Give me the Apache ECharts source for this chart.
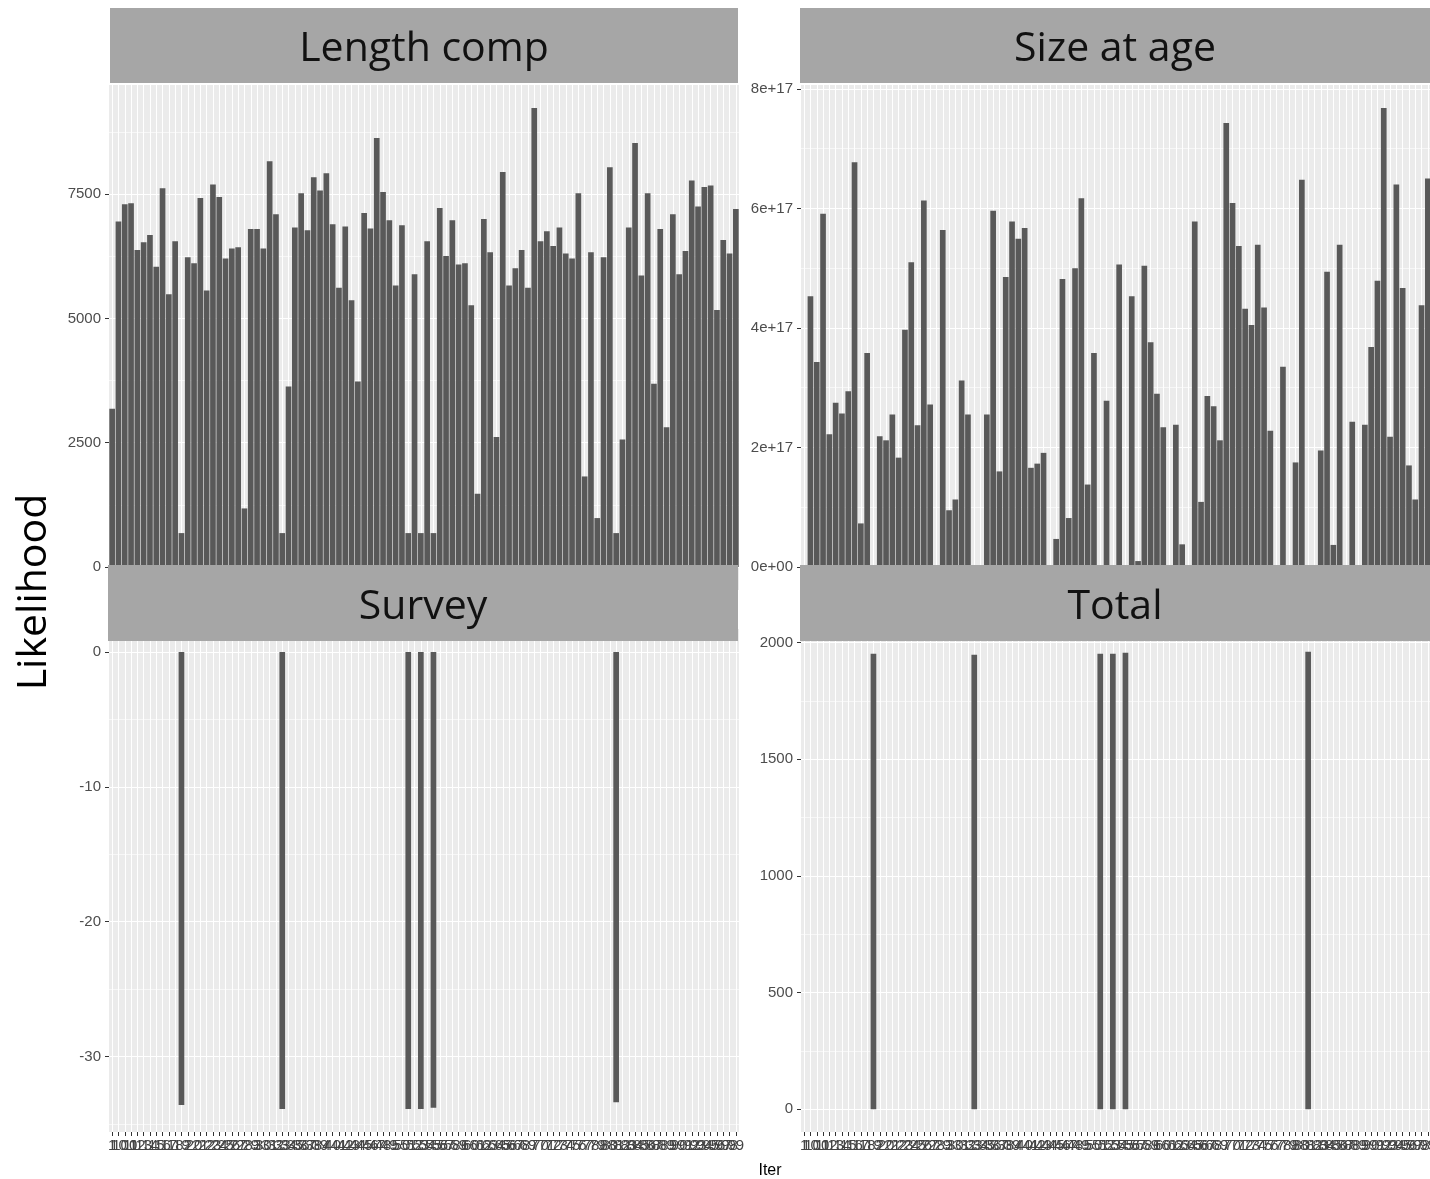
<!DOCTYPE html>
<html><head><meta charset="utf-8">
<script src="https://cdn.jsdelivr.net/npm/echarts@6/dist/echarts.min.js"></script>
<style>html,body{margin:0;padding:0;background:#fff}#c{width:1430px;height:1179px}</style>
</head><body><div id="c"></div>
<script>
// Iterations, sorted as text (as ggplot did)
const iterLabels = ["1","10","100","11","12","13","14","15","16","17","18","19",
 "2","20","21","22","23","24","25","26","27","28","29",
 "3","30","31","32","33","34","35","36","37","38","39",
 "4","40","41","42","43","44","45","46","47","48","49",
 "5","50","51","52","53","54","55","56","57","58","59",
 "6","60","61","62","63","64","65","66","67","68","69",
 "7","70","71","72","73","74","75","76","77","78","79",
 "8","80","81","82","83","84","85","86","87","88","89",
 "9","90","91","92","93","94","95","96","97","98","99"];

const lengthComp = [
 3183,6948,7296,7316,6378,6532,6680,6037,7618,5487,
 6553,683,6231,6110,7424,5561,7692,7444,6204,6405,
 6432,1179,6800,6800,6405,8161,7095,683,3631,6827,
 7517,6774,7839,7571,7919,6894,5615,6847,5367,3732,
 7122,6807,8630,7544,6975,5662,6874,683,5889,683,
 6550,683,7223,6258,6975,6084,6110,5266,1474,7002,
 6332,2613,7946,5662,6010,6378,5615,9233,6553,6754,
 6459,6827,6305,6204,7517,1822,6332,985,6231,8040,
 683,2566,6827,8529,5862,7517,3685,6800,2814,7095,
 5889,6358,7772,7249,7645,7672,5172,6579,6305,7203];

// Size at age, in units of 1e17
const sizeAtAgeE17 = [
 0,4.53,3.43,5.91,2.22,2.75,2.57,2.94,6.77,0.73,
 3.58,0,2.19,2.12,2.55,1.83,3.97,5.10,2.37,6.13,
 2.72,0,5.64,0.95,1.13,3.12,2.55,0,0,2.55,
 5.96,1.60,4.85,5.78,5.49,5.67,1.66,1.73,1.91,0,
 0.47,4.82,0.82,5.00,6.17,1.38,3.58,0,2.78,0,
 5.06,0,4.53,0.10,5.04,3.76,2.90,2.34,0,2.38,
 0.38,0,5.78,1.09,2.86,2.69,2.12,7.43,6.09,5.37,
 4.32,4.05,5.39,4.34,2.28,0,3.35,0,1.75,6.48,
 0,0,1.95,4.94,0.37,5.39,0,2.43,0,2.38,
 3.68,4.79,7.68,2.18,6.40,4.67,1.70,1.13,4.38,6.50];

const survey = [
 0,0,0,0,0,0,0,0,0,0,
 0,-33.6,0,0,0,0,0,0,0,0,
 0,0,0,0,0,0,0,-33.9,0,0,
 0,0,0,0,0,0,0,0,0,0,
 0,0,0,0,0,0,0,-33.9,0,-33.9,
 0,-33.8,0,0,0,0,0,0,0,0,
 0,0,0,0,0,0,0,0,0,0,
 0,0,0,0,0,0,0,0,0,0,
 -33.4,0,0,0,0,0,0,0,0,0,
 0,0,0,0,0,0,0,0,0,0];

const total = [
 null,null,null,null,null,null,null,null,null,null,
 null,1952,null,null,null,null,null,null,null,null,
 null,null,null,null,null,null,null,1948,null,null,
 null,null,null,null,null,null,null,null,null,null,
 null,null,null,null,null,null,null,1952,null,1952,
 null,1956,null,null,null,null,null,null,null,null,
 null,null,null,null,null,null,null,null,null,null,
 null,null,null,null,null,null,null,null,null,null,
 1960,null,null,null,null,null,null,null,null,null,
 null,null,null,null,null,null,null,null,null,null];

const panelTitles = ["Length comp", "Size at age", "Survey", "Total"];
const lengthTicks = [0, 2500, 5000, 7500];
const lengthMinor = [1250, 3750, 6250, 8750];
const sizeTicks = [0, 2e17, 4e17, 6e17, 8e17];
const sizeMinor = [1e17, 3e17, 5e17, 7e17];
const surveyTicks = [-30, -20, -10, 0];
const surveyMinor = [-35, -25, -15, -5];
const totalTicks = [0, 500, 1000, 1500, 2000];
const totalMinor = [250, 750, 1250, 1750];

const AX_FONT = 'Liberation Sans, Arial, sans-serif';
const TITLE_FONT = '"Open Sans", "Noto Sans", sans-serif';

function sciFmt(v) {
  if (v === 0) return '0e+00';
  const s = v.toExponential(0);
  const m = s.match(/^(-?\d)e([+-])(\d+)$/);
  return m ? m[1] + 'e' + m[2] + (m[3].length < 2 ? '0' + m[3] : m[3]) : s;
}

const grids = [
  {left: 109, top: 85, width: 630, height: 505},
  {left: 801, top: 85, width: 630, height: 505},
  {left: 109, top: 629, width: 630, height: 503},
  {left: 801, top: 629, width: 630, height: 503}
].map(g => Object.assign({show: true, backgroundColor: '#ebebeb', borderWidth: 0,
                          containLabel: false, outerBoundsMode: 'none'}, g));

function xAx(gi, showLabels) {
  return {
    type: 'category', gridIndex: gi, data: iterLabels, boundaryGap: true, position: 'bottom',
    axisLine: {show: false, onZero: false},
    axisTick: {show: showLabels, alignWithLabel: true, interval: 0, length: 4, lineStyle: {color: '#333333'}},
    axisLabel: {show: showLabels, interval: 0, color: '#444444', fontSize: 15, margin: 6, fontFamily: AX_FONT},
    splitLine: {show: true, alignWithLabel: true, interval: 0, lineStyle: {color: '#ffffff', width: 1}}
  };
}
function yMain(gi, min, max, ticks, fmt) {
  return {
    type: 'value', gridIndex: gi, min: min, max: max, position: 'left',
    axisLine: {show: false},
    axisTick: {show: true, length: 4, customValues: ticks, lineStyle: {color: '#333333'}},
    axisLabel: {show: true, customValues: ticks, color: '#4d4d4d', fontSize: 15, margin: 8,
                fontFamily: AX_FONT, formatter: fmt || (v => String(v))},
    splitLine: {show: true, lineStyle: {color: '#ffffff', width: 1.2}}
  };
}
function yMinor(gi, min, max, ticks) {
  return {
    type: 'value', gridIndex: gi, min: min, max: max, position: 'left',
    axisLine: {show: false},
    axisTick: {show: false, customValues: ticks},
    axisLabel: {show: false},
    splitLine: {show: true, lineStyle: {color: '#ffffff', width: 0.6}}
  };
}

const barBase = {type: 'bar', barWidth: '90%', itemStyle: {color: '#595959'},
                 emphasis: {disabled: true}, silent: true, animation: false};

const stripRects = [
  {x: 110, y: 8, w: 628, h: 75, t: panelTitles[0]},
  {x: 800, y: 8, w: 630, h: 75, t: panelTitles[1]},
  {x: 108, y: 565, w: 630, h: 76, t: panelTitles[2]},
  {x: 800, y: 565, w: 630, h: 76, t: panelTitles[3]}
];
const graphics = [];
stripRects.forEach(s => {
  graphics.push({type: 'rect', z: 100, shape: {x: s.x, y: s.y, width: s.w, height: s.h},
                 style: {fill: '#a6a6a6'}, silent: true});
  graphics.push({type: 'text', z: 101, x: s.x + s.w / 2, y: s.y + s.h / 2 + 4, silent: true,
                 style: {text: s.t, fill: '#111111', font: '41px ' + TITLE_FONT,
                         textAlign: 'center', textVerticalAlign: 'middle'}});
});
graphics.push({type: 'text', z: 101, x: 34, y: 592, rotation: Math.PI / 2, silent: true,
               style: {text: 'Likelihood', fill: '#000000', font: '41px ' + TITLE_FONT,
                       textAlign: 'center', textVerticalAlign: 'middle'}});
graphics.push({type: 'text', z: 101, x: 770, y: 1171, silent: true,
               style: {text: 'Iter', fill: '#000000', font: '16px ' + AX_FONT,
                       textAlign: 'center', textVerticalAlign: 'middle'}});

const option = {
  animation: false,
  backgroundColor: '#ffffff',
  grid: grids,
  xAxis: [xAx(0, false), xAx(1, false), xAx(2, true), xAx(3, true)],
  yAxis: [
    yMain(0, -461.6, 9694.6, lengthTicks), yMinor(0, -461.6, 9694.6, lengthMinor),
    yMain(1, -0.384e17, 8.064e17, sizeTicks, sciFmt), yMinor(1, -0.384e17, 8.064e17, sizeMinor),
    yMain(2, -35.6, 1.7, surveyTicks), yMinor(2, -35.6, 1.7, surveyMinor),
    yMain(3, -98, 2058, totalTicks), yMinor(3, -98, 2058, totalMinor)
  ],
  series: [
    Object.assign({}, barBase, {name: panelTitles[0], xAxisIndex: 0, yAxisIndex: 0, data: lengthComp}),
    Object.assign({}, barBase, {name: panelTitles[1], xAxisIndex: 1, yAxisIndex: 2, data: sizeAtAgeE17.map(v => v * 1e17)}),
    Object.assign({}, barBase, {name: panelTitles[2], xAxisIndex: 2, yAxisIndex: 4, data: survey}),
    Object.assign({}, barBase, {name: panelTitles[3], xAxisIndex: 3, yAxisIndex: 6, data: total})
  ],
  graphic: graphics
};
const chart = echarts.init(document.getElementById('c'), null, {renderer: 'canvas'});
chart.setOption(option);
</script></body></html>
